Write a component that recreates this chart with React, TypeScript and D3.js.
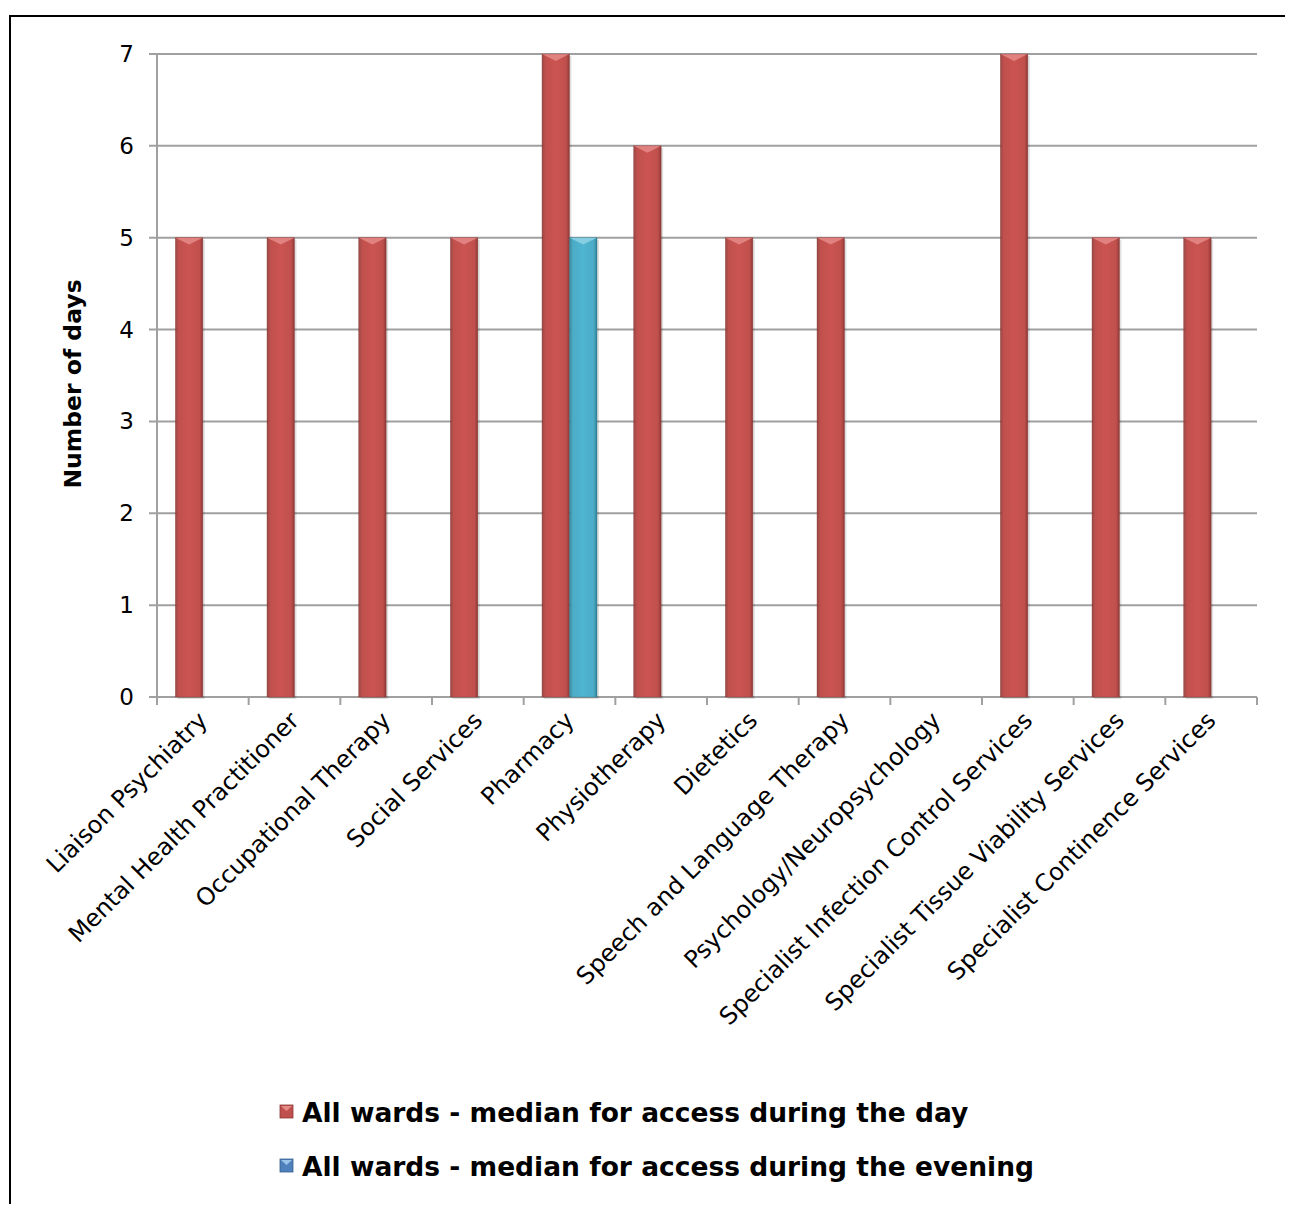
import React from "react";
import * as d3 from "d3";

const categories = [
  "Liaison Psychiatry",
  "Mental Health Practitioner",
  "Occupational Therapy",
  "Social Services",
  "Pharmacy",
  "Physiotherapy",
  "Dietetics",
  "Speech and Language Therapy",
  "Psychology/Neuropsychology",
  "Specialist Infection Control Services",
  "Specialist Tissue Viability Services",
  "Specialist Continence Services",
];
const dayValues = [5, 5, 5, 5, 7, 6, 5, 5, 0, 7, 5, 5];
const eveningValues = [0, 0, 0, 0, 5, 0, 0, 0, 0, 0, 0, 0];
const yTicks = [0, 1, 2, 3, 4, 5, 6, 7];
const seriesNames = [
  "All wards - median for access during the day",
  "All wards - median for access during the evening",
];

const W = 1293;
const H = 1212;
const left = 157;
const right = 1257;
const top = 54;
const bottom = 697;
const font = "'DejaVu Sans', Verdana, sans-serif";

export default function App() {
  const x = d3.scaleBand<string>().domain(categories).range([left, right]).paddingInner(0).paddingOuter(0);
  const y = d3.scaleLinear().domain([0, 7]).range([bottom, top]);
  const bw = x.bandwidth();
  const barW = bw * 0.3;
  const sub = d3.scaleBand<number>().domain([0, 1]).range([bw / 2 - barW, bw / 2 + barW]);

  const series = [
    { vals: dayValues, base: "#c0504d", light: "#e58b88", dark: "#8c3836", id: "red" },
    { vals: eveningValues, base: "#4bacc6", light: "#8fd3e6", dark: "#2f7f94", id: "blue" },
  ];

  const bar = (cx: number, v: number, s: any, key: string) => {
    if (v <= 0) return null;
    const y0 = y(v);
    const h = bottom - y0;
    const tri = Math.min(barW / 2, h);
    return (
      <g key={key}>
        <rect x={cx + 2} y={y0 + 2} width={barW} height={h} fill="#000" opacity={0.12} />
        <rect x={cx} y={y0} width={barW} height={h} fill={`url(#grad-${s.id})`} />
        <polygon
          points={`${cx},${y0} ${cx + barW},${y0} ${cx + barW / 2},${y0 + tri * 0.5}`}
          fill={s.light}
          opacity={0.85}
        />
        <rect x={cx} y={y0} width={barW} height={h} fill="none" stroke={s.dark} strokeWidth={0.6} opacity={0.6} />
      </g>
    );
  };

  return (
    <svg width={W} height={H - 16} style={{ display: "block", margin: 0 }} viewBox={`8 8 ${W} ${H - 16}`}>
      <defs>
        {series.map((s) => (
          <linearGradient key={s.id} id={`grad-${s.id}`} x1="0" x2="1" y1="0" y2="0">
            <stop offset="0" stopColor={s.dark} stopOpacity={0.9} />
            <stop offset="0.12" stopColor={s.base} />
            <stop offset="0.5" stopColor={d3.color(s.base)!.brighter(0.15).toString()} />
            <stop offset="0.88" stopColor={s.base} />
            <stop offset="1" stopColor={s.dark} />
          </linearGradient>
        ))}
      </defs>
      <rect x={0} y={0} width={W + 20} height={H + 20} fill="#fff" />
      <rect x={10} y={16} width={W + 20} height={H + 20} fill="none" stroke="#000" strokeWidth={2} />

      {/* gridlines */}
      {yTicks.map((t) => (
        <g key={t}>
          <line x1={left - 8} x2={right} y1={y(t)} y2={y(t)} stroke="#a0a0a0" strokeWidth={2} />
          <text x={left - 23} y={y(t) + 8} textAnchor="end" fontFamily={font} fontSize={23} fill="#000">
            {t}
          </text>
        </g>
      ))}
      <line x1={left} x2={left} y1={top} y2={bottom} stroke="#a0a0a0" strokeWidth={2} />
      {categories.concat([""]).map((c, i) => {
        const xx = left + i * bw;
        return <line key={"t" + i} x1={xx} x2={xx} y1={bottom} y2={bottom + 8} stroke="#a0a0a0" strokeWidth={2} />;
      })}

      {/* bars */}
      {categories.map((c, i) =>
        series.map((s, si) => bar((x(c) as number) + (sub(si) as number), s.vals[i], s, c + si))
      )}

      {/* category labels */}
      {categories.map((c) => {
        const cx = (x(c) as number) + bw / 2 + 6;
        const cy = bottom + 25;
        return (
          <text
            key={c}
            transform={`translate(${cx},${cy}) rotate(-45)`}
            textAnchor="end"
            fontFamily={font}
            fontSize={24}
            fill="#000"
          >
            {c}
          </text>
        );
      })}

      <text
        transform={`translate(81,384) rotate(-90)`}
        textAnchor="middle"
        fontFamily={font}
        fontSize={23.5}
        fontWeight="bold"
      >
        Number of days
      </text>

      {/* legend */}
      {series.map((s, si) => {
        const ly = 1122 + si * 54;
        return (
          <g key={"lg" + si}>
            <rect x={280} y={ly - 17} width={13} height={13} fill={si === 0 ? "#c0504d" : "#4f81bd"} stroke={si === 0 ? "#8c3836" : "#385d8a"} strokeWidth={0.8} />
            <polygon points={`${281},${ly - 16} ${292},${ly - 16} ${286.5},${ly - 11}`} fill={si === 0 ? "#e58b88" : "#9cc3ea"} />
            <text x={302} y={ly} fontFamily={font} fontSize={26.5} fontWeight="bold" fill="#000">
              {seriesNames[si]}
            </text>
          </g>
        );
      })}
    </svg>
  );
}
